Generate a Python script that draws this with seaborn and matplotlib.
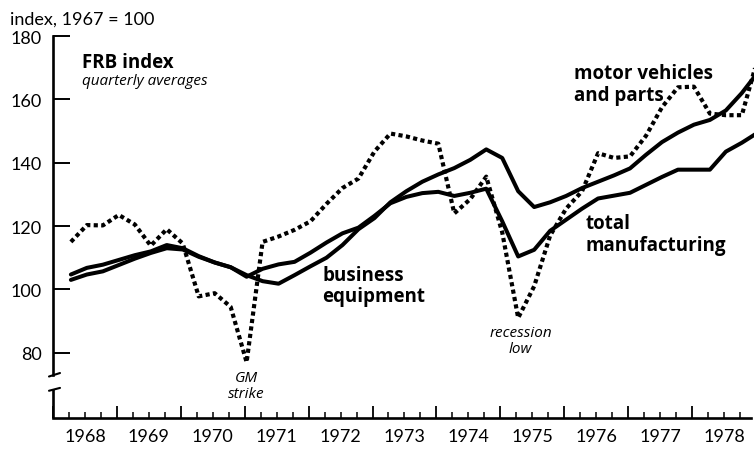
import matplotlib.pyplot as plt
import matplotlib.ticker as mtick
import pandas as pd
import seaborn as sns

# quarterly averages, 1968Q1 .. 1978Q4 (index, 1967 = 100)
quarters = [f"{y}Q{q}" for y in range(1968, 1979) for q in range(1, 5)]
total_manufacturing = [104.7, 106.8, 107.8, 109.3, 110.8, 112.0, 114.0, 113.0,
                       110.5, 108.5, 107.0, 104.0, 106.5, 107.9, 108.7, 111.6,
                       114.8, 117.7, 119.5, 123.2, 127.2, 129.2, 130.4, 130.8,
                       129.5, 130.5, 131.8, 121.5, 110.4, 112.5, 118.5, 122.0,
                       125.5, 128.7, 129.6, 130.5, 133.0, 135.5, 137.8, 137.8,
                       137.8, 143.5, 146.3, 149.5]
business_equipment = [103.0, 104.7, 105.7, 107.7, 109.7, 111.5, 113.0, 112.6,
                      110.3, 108.5, 107.0, 104.5, 102.6, 101.8, 104.5, 107.3,
                      110.0, 114.0, 119.0, 122.5, 127.5, 131.0, 134.0, 136.3,
                      138.3, 140.9, 144.2, 141.5, 131.0, 126.0, 127.5, 129.5,
                      132.0, 134.0, 136.0, 138.2, 142.5, 146.5, 149.5, 152.0,
                      153.5, 156.5, 162.0, 168.5]
motor_vehicles = [115.0, 120.3, 120.2, 123.5, 120.5, 113.8, 119.0, 114.5,
                  97.8, 98.8, 94.5, 77.0, 115.0, 116.7, 118.8, 121.5,
                  127.0, 132.0, 135.0, 143.5, 149.2, 148.3, 147.0, 146.0,
                  124.0, 128.5, 135.6, 118.0, 91.0, 101.0, 117.0, 125.5,
                  131.0, 143.0, 141.5, 142.0, 148.5, 157.5, 163.8, 164.0,
                  155.5, 155.0, 155.0, 173.0]
years = list(range(1968, 1979))
y_ticks = [80, 100, 120, 140, 160, 180]

df = pd.DataFrame({'quarter': quarters,
                   'total': total_manufacturing,
                   'equipment': business_equipment,
                   'motor': motor_vehicles})
# plot each quarter just after its end, as in the original drawing
df['t'] = [int(q[:4]) + int(q[-1]) / 4 + 0.03 for q in quarters]

sns.set_style("ticks")
plt.rcParams['font.family'] = ['Lato', 'DejaVu Sans']
plt.rcParams['text.color'] = 'black'
plt.rcParams['axes.edgecolor'] = 'black'
plt.rcParams['xtick.color'] = 'black'
plt.rcParams['ytick.color'] = 'black'
label_font = ['Open Sans', 'DejaVu Sans']

fig = plt.figure(figsize=(7.54, 4.52), dpi=100)
ax = fig.add_axes([53 / 754, 33 / 452, 701 / 754, 382 / 452])

ax = sns.lineplot(data=df, x='t', y='total', color='black', lw=2.9, ax=ax)
sns.lineplot(data=df, x='t', y='equipment', color='black', lw=2.9, ax=ax)
sns.lineplot(data=df, x='t', y='motor', color='black', lw=3.0,
             linestyle=(0, (1, 0.8)), dash_capstyle='butt', ax=ax)

ymin = 59.4
ax.set_xlim(1968, 1968 + 701 / 63.9)
ax.set_ylim(ymin, 180)
ax.set_xlabel('')
ax.set_ylabel('')

for s in ['top', 'right']:
    ax.spines[s].set_visible(False)
ax.spines['left'].set_linewidth(1.9)
ax.spines['bottom'].set_linewidth(1.9)
ax.spines['left'].set_bounds(72.9, 180)
ax.spines['bottom'].set_bounds(1968, 1978.92)

# broken y axis: lower stub and the two slash marks
px = 1 / 63.9
ax.plot([1968, 1968], [ymin, 68.6], color='black', lw=1.9,
        solid_capstyle='butt', clip_on=False)
ax.plot([1968 - 4 * px, 1968 + 7 * px], [72.5, 73.6], color='black', lw=1.5,
        clip_on=False)
ax.plot([1968 - 4 * px, 1968 + 7 * px], [68.0, 68.9], color='black', lw=1.5,
        clip_on=False)

ax.yaxis.set_major_locator(mtick.FixedLocator(y_ticks))
ax.tick_params(axis='y', direction='in', length=12, width=1.4, pad=8,
               labelsize=13, labelcolor='black')

ax.xaxis.set_major_locator(mtick.FixedLocator(years))
ax.xaxis.set_minor_locator(mtick.FixedLocator(
    [y + q / 4 for y in years for q in (1, 2, 3)]))
ax.xaxis.set_major_formatter(mtick.NullFormatter())
ax.tick_params(axis='x', which='major', direction='in', length=8.5, width=1.3)
ax.tick_params(axis='x', which='minor', direction='in', length=4.5, width=1.1)
for y in years:
    ax.text(y + 0.5, -0.047, str(y), transform=ax.get_xaxis_transform(),
            ha='center', va='center', fontsize=13, color='black')

fig.text(10 / 754, 1 - 20 / 452, 'index, 1967 = 100', ha='left', va='center',
         fontsize=13, color='black')

ax.text(1968.45, 171.8, 'FRB index', fontsize=13.5, fontweight='bold',
        va='center', family=label_font)
ax.text(1968.45, 165.9, 'quarterly averages', fontsize=11, style='italic',
        va='center', family=label_font)
ax.text(1976.15, 164.9, 'motor vehicles\nand parts', fontsize=13.5,
        fontweight='bold', va='center', linespacing=1.1, family=label_font)
ax.text(1976.33, 117.5, 'total\nmanufacturing', fontsize=13.5,
        fontweight='bold', va='center', linespacing=1.1, family=label_font)
ax.text(1972.21, 101.3, 'business\nequipment', fontsize=13.5,
        fontweight='bold', va='center', linespacing=1.1, family=label_font)
ax.text(1971.02, 69.6, 'GM\nstrike', fontsize=11, style='italic',
        ha='center', va='center', linespacing=1.05, family=label_font)
ax.text(1975.32, 83.8, 'recession\nlow', fontsize=11, style='italic',
        ha='center', va='center', linespacing=1.05, family=label_font)

fig.savefig('out.png', dpi=100)
